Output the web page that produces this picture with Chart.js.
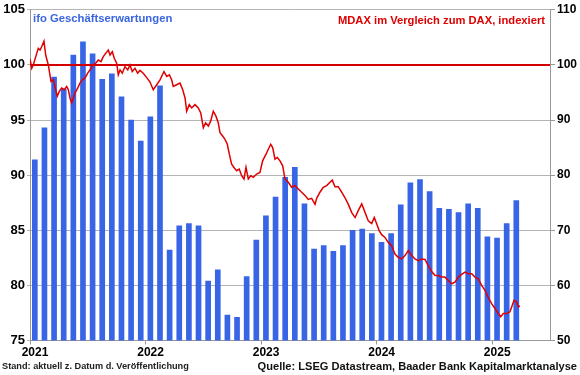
<!DOCTYPE html>
<html lang="de">
<head>
    <meta charset="UTF-8">
    <title>ifo Geschäftserwartungen und MDAX/DAX</title>
    <style>
        body {
            margin: 0;
            padding: 0;
            background: #ffffff;
            font-family: "Liberation Sans", Arial, sans-serif;
        }
        .wrap {
            position: relative;
            width: 580px;
            height: 375px;
        }
        .label {
            position: absolute;
            font-weight: bold;
            line-height: 1;
            white-space: nowrap;
        }
        .ifo-title {
            left: 33px;
            top: 13px;
            font-size: 11.3px;
            color: #3a66e0;
        }
        .mdax-title {
            right: 35px;
            top: 15px;
            font-size: 11.2px;
            color: #dd0000;
        }
        .stand {
            left: 2px;
            top: 361.5px;
            font-size: 9.2px;
            color: #222;
        }
        .quelle {
            right: 3px;
            top: 360.5px;
            font-size: 11.1px;
            color: #111;
        }
    </style>
</head>
<body>
<div class="wrap">
    <canvas id="chart" width="580" height="375"></canvas>
    <div class="label ifo-title">ifo Geschäftserwartungen</div>
    <div class="label mdax-title">MDAX im Vergleich zum DAX, indexiert</div>
    <div class="label stand">Stand: aktuell z. Datum d. Veröffentlichung</div>
    <div class="label quelle">Quelle: LSEG Datastream, Baader Bank Kapitalmarktanalyse</div>
</div>

<script src="https://cdn.jsdelivr.net/npm/chart.js"></script>
<script>
    // x axis: months since Jan 2021
    var yearTicks = [0, 12, 24, 36, 48];
    var yearLabels = ['2021', '2022', '2023', '2024', '2025'];

    // ifo Geschäftserwartungen, monthly Jan 2021 - Mar 2025 (left axis)
    var ifoValues = [
        91.4, 94.3, 98.9, 97.8, 100.9, 102.1, 101.0, 98.7, 99.2, 97.1, 95.0, 93.1,
        95.3, 98.1, 83.2, 85.4, 85.6, 85.4, 80.4, 81.4, 77.3, 77.1, 80.8, 84.1,
        86.3, 88.0, 89.8, 90.7, 87.4, 83.3, 83.6, 83.1, 83.6, 85.0, 85.1, 84.7,
        83.9, 84.7, 87.3, 89.3, 89.6, 88.5, 87.0, 86.9, 86.6, 87.4, 87.0, 84.4,
        84.3, 85.6, 87.7
    ];

    // MDAX relative to DAX, indexed (right axis)
    var lineMonths = [
        0.00, 0.18, 0.34, 0.70, 0.86, 1.04, 1.21, 1.45, 1.63, 1.90, 2.18, 2.42, 2.67, 2.83,
        3.04, 3.29, 3.56, 3.81, 3.98, 4.15, 4.33, 4.50, 4.67, 4.95, 5.19, 5.43, 5.71, 5.99,
        6.23, 6.57, 6.82, 7.09, 7.37, 7.61, 7.86, 8.13, 8.31, 8.55, 8.75, 9.00, 9.17, 9.35,
        9.58, 9.86, 10.15, 10.38, 10.62, 10.90, 11.18, 11.42, 11.76, 12.12, 12.46, 12.80,
        13.16, 13.50, 13.91, 14.20, 14.47, 14.71, 14.88, 15.23, 15.58, 15.86, 16.10, 16.27,
        16.54, 16.79, 17.13, 17.48, 17.73, 18.00, 18.24, 18.52, 18.76, 19.03, 19.31, 19.55,
        19.73, 20.01, 20.25, 20.49, 20.70, 20.94, 21.18, 21.46, 21.73, 21.98, 22.22, 22.43,
        22.67, 22.92, 23.19, 23.54, 23.88, 24.16, 24.51, 24.75, 25.00, 25.20, 25.44, 25.68,
        25.96, 26.24, 26.48, 26.82, 27.17, 27.52, 27.86, 28.21, 28.56, 28.90, 29.25, 29.60,
        29.77, 30.11, 30.46, 30.81, 31.15, 31.39, 31.67, 32.01, 32.37, 32.71, 33.06, 33.41,
        33.76, 34.10, 34.45, 34.80, 35.13, 35.48, 35.75, 36.00, 36.27, 36.52, 36.86, 37.21,
        37.56, 37.90, 38.24, 38.60, 38.94, 39.28, 39.64, 39.98, 40.32, 40.68, 41.02, 41.36,
        41.71, 42.06, 42.40, 42.75, 43.09, 43.44, 43.79, 44.13, 44.48, 44.83, 45.17, 45.51,
        45.87, 46.21, 46.55, 46.90, 47.25, 47.59, 47.94, 48.29, 48.63, 48.88, 49.15, 49.50,
        49.84, 50.02, 50.26, 50.54, 50.71, 50.88
    ];
    var lineValues = [
        101.1, 99.4, 100.0, 102.1, 103.0, 102.7, 103.3, 104.3, 101.8, 100.0, 97.0, 97.3, 95.5, 94.3,
        95.2, 95.8, 95.5, 96.1, 95.5, 94.0, 93.1, 94.0, 94.9, 95.8, 96.7, 97.3, 97.6, 98.5,
        99.1, 100.0, 100.3, 100.9, 100.6, 101.5, 102.1, 102.7, 101.8, 102.4, 101.2, 100.3, 98.2, 99.1,
        98.5, 99.7, 99.1, 100.0, 98.8, 99.4, 98.5, 99.0, 98.5, 97.7, 96.9, 95.5,
        96.4, 97.3, 98.8, 97.9, 98.2, 97.3, 96.1, 96.4, 96.7, 95.5, 94.0, 91.6,
        92.8, 92.2, 92.8, 92.2, 91.3, 88.6, 89.5, 88.9, 89.8, 91.6, 90.7, 89.5,
        87.7, 87.1, 86.5, 85.6, 83.8, 82.0, 81.4, 80.8, 81.1, 79.9, 79.3, 81.4,
        79.3, 79.9, 79.6, 80.2, 80.5, 82.6, 83.8, 84.7, 85.6, 85.0, 82.9, 83.2,
        82.6, 81.7, 79.3, 78.7, 77.8, 78.1, 77.5, 76.9, 76.3, 75.6, 75.8, 74.7,
        75.8, 76.9, 77.8, 78.1, 78.7, 79.1, 77.9, 77.9, 76.9, 75.9, 74.7, 73.2,
        72.3, 73.6, 74.8, 73.2, 71.7, 71.2, 72.3, 71.2, 69.9, 69.2, 68.7, 67.8,
        67.2, 65.7, 65.1, 64.8, 65.4, 66.3, 65.4, 64.8, 64.5, 64.8, 64.7, 63.6,
        62.5, 61.8, 61.8, 61.5, 61.5, 60.9, 60.3, 60.6, 61.5, 62.0, 62.4, 62.1,
        62.1, 61.5, 61.2, 60.0, 59.1, 57.8, 56.7, 55.8, 54.9, 54.3, 54.9, 54.9,
        55.2, 56.1, 57.3, 57.0, 56.1, 56.3
    ];

    var referenceLevel = 100;
    var xMax = 54;

    var barData = ifoValues.map(function (v, i) {
        return { x: i + 0.5, y: v };
    });
    var lineData = lineMonths.map(function (m, i) {
        return { x: m, y: lineValues[i] };
    });
    var refData = [{ x: 0, y: referenceLevel }, { x: xMax, y: referenceLevel }];

    var tickFont = { family: 'Liberation Sans', weight: 'bold', size: 12 };

    new Chart(document.getElementById('chart').getContext('2d'), {
        type: 'bar',
        data: {
            datasets: [{
                type: 'line',
                data: refData,
                yAxisID: 'y1',
                borderColor: '#d40000',
                borderWidth: 2,
                pointRadius: 0,
                order: 0
            }, {
                type: 'line',
                data: lineData,
                yAxisID: 'y1',
                borderColor: '#e00000',
                borderWidth: 1.5,
                pointRadius: 0,
                tension: 0,
                order: 0
            }, {
                type: 'bar',
                data: barData,
                yAxisID: 'y',
                backgroundColor: '#3864e6',
                barThickness: 5,
                order: 1
            }]
        },
        options: {
            responsive: false,
            animation: false,
            devicePixelRatio: 1,
            layout: { padding: { top: 8, left: 0, right: 0, bottom: 0 } },
            plugins: {
                legend: { display: false },
                tooltip: { enabled: false }
            },
            scales: {
                x: {
                    type: 'linear',
                    min: 0,
                    max: xMax,
                    offset: false,
                    afterBuildTicks: function (scale) {
                        scale.ticks = yearTicks.map(function (v) { return { value: v }; });
                    },
                    afterFit: function (scale) { scale.height = 34.5; },
                    ticks: {
                        callback: function (v) { return yearLabels[yearTicks.indexOf(v)]; },
                        font: tickFont,
                        color: '#000',
                        labelOffset: 5,
                        padding: 1,
                        maxRotation: 0,
                        autoSkip: false
                    },
                    grid: {
                        offset: false,
                        drawOnChartArea: false,
                        drawTicks: true,
                        tickLength: 4,
                        color: '#999'
                    },
                    border: { color: '#999' }
                },
                y: {
                    position: 'left',
                    min: 75,
                    max: 105,
                    afterFit: function (scale) { scale.width = 30; },
                    ticks: {
                        stepSize: 5,
                        font: { family: 'Liberation Sans', weight: 'bold', size: 13 },
                        color: '#000',
                        padding: 2
                    },
                    grid: {
                        color: '#b4b4b4',
                        tickLength: 3
                    },
                    border: { color: '#999' }
                },
                y1: {
                    position: 'right',
                    min: 50,
                    max: 110,
                    afterFit: function (scale) { scale.width = 30; },
                    ticks: {
                        stepSize: 10,
                        font: tickFont,
                        color: '#000',
                        padding: 2
                    },
                    grid: {
                        drawOnChartArea: false,
                        tickLength: 5,
                        color: '#999'
                    },
                    border: { color: '#999' }
                }
            }
        }
    });
</script>
</body>
</html>
